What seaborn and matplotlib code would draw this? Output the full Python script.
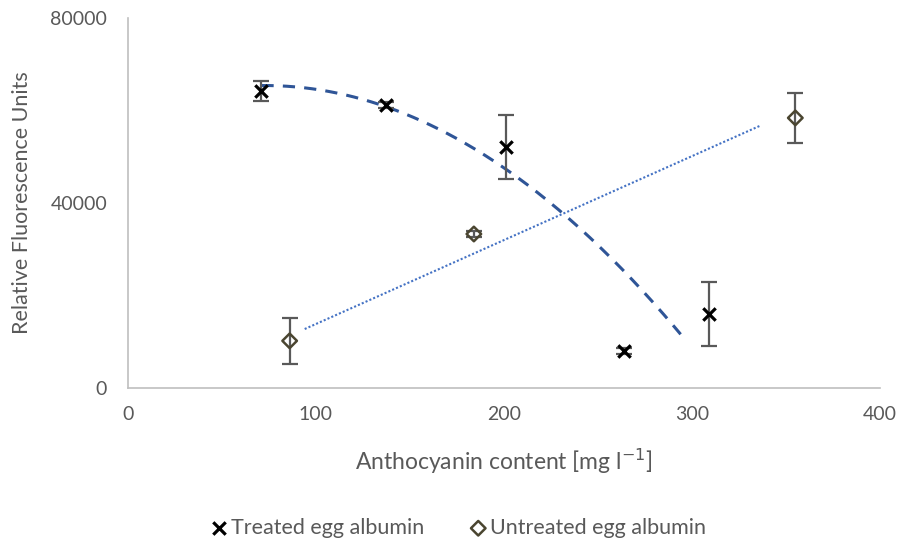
import numpy as np
import pandas as pd
import matplotlib
matplotlib.use("Agg")
import matplotlib.pyplot as plt
import seaborn as sns

# Treated egg albumin
treated_x = [71, 137, 201, 264, 309]
treated_y = [64200, 61200, 52100, 8000, 16000]
treated_err = [2200, 700, 7000, 700, 7000]

# Untreated egg albumin
untreated_x = [86, 184, 355]
untreated_y = [10200, 33300, 58400]
untreated_err = [5000, 600, 5400]

# Trendline coefficients (highest power first) and the x span they cover
treated_trend = [-1.098, 159.6, 59600]
treated_trend_span = [71, 294]
untreated_trend = [181.4, -4295]
untreated_trend_span = [94, 336]

x_ticks = [0, 100, 200, 300, 400]
y_ticks = [0, 40000, 80000]

sns.set_theme(style="white")
plt.rcParams["font.family"] = ["Lato", "DejaVu Sans"]
text_grey = "#595959"

df = pd.concat([
    pd.DataFrame({"x": treated_x, "y": treated_y, "series": "Treated egg albumin"}),
    pd.DataFrame({"x": untreated_x, "y": untreated_y, "series": "Untreated egg albumin"}),
])

fig = plt.figure(figsize=(9.09, 5.42), dpi=100)
ax = fig.add_axes([0.1408, 0.2841, 0.8272, 0.6827])

# Trendlines: polynomial (order 2) for treated, linear for untreated
xq = np.linspace(*treated_trend_span, 200)
ax.plot(xq, np.polyval(treated_trend, xq), color="#2f5597", lw=2.2, ls=(0, (4, 3)), zorder=2)
xl = np.linspace(*untreated_trend_span, 100)
ax.plot(xl, np.polyval(untreated_trend, xl), color="#4472c4", lw=1.5, ls=(0, (1, 1)), zorder=2)

# Error bars
ax.errorbar(treated_x, treated_y, yerr=treated_err, fmt="none", ecolor="#595959",
            elinewidth=1.6, capsize=6, capthick=1.6, zorder=3)
ax.errorbar(untreated_x, untreated_y, yerr=untreated_err, fmt="none", ecolor="#595959",
            elinewidth=1.6, capsize=6, capthick=1.6, zorder=3)

sns.scatterplot(data=df[df.series == "Treated egg albumin"], x="x", y="y", ax=ax,
                marker="x", s=80, color="black", linewidth=2.3, zorder=4,
                label="Treated egg albumin")
sns.scatterplot(data=df[df.series == "Untreated egg albumin"], x="x", y="y", ax=ax,
                marker="D", s=55, facecolor="none", edgecolor="#4a4530", linewidth=1.8,
                zorder=4, label="Untreated egg albumin")

ax.set_xlim(0, 400)
ax.set_ylim(0, 80000)
ax.set_xticks(x_ticks)
ax.set_yticks(y_ticks)
ax.tick_params(axis="both", labelsize=14, colors=text_grey, length=0)
ax.tick_params(axis="x", pad=13)
ax.tick_params(axis="y", pad=15)
for s in ["top", "right"]:
    ax.spines[s].set_visible(False)
for s in ["left", "bottom"]:
    ax.spines[s].set_color("#bfbfbf")
    ax.spines[s].set_linewidth(1.2)

ax.set_xlabel("Anthocyanin content [mg l$^{-1}$]", fontsize=16.5, color=text_grey)
ax.set_ylabel("Relative Fluorescence Units", fontsize=15.5, color=text_grey)
ax.xaxis.set_label_coords(0.5, -0.16)
ax.yaxis.set_label_coords(-0.127, 0.5)

leg = ax.legend(loc="center", bbox_to_anchor=(0.438, -0.378), ncol=2, frameon=False,
                fontsize=15.5, handletextpad=0.05, columnspacing=2.0, handlelength=1.0)
for t in leg.get_texts():
    t.set_color(text_grey)

fig.savefig("out.png", dpi=100)
